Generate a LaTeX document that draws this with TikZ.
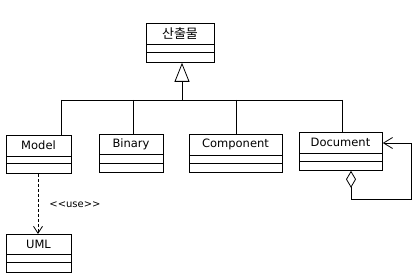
\documentclass[tikz,border=0pt]{standalone}
\usepackage{fontspec}
\setmainfont{DejaVu Sans}
\newfontfamily\krfont{Noto Sans CJK KR}
\usetikzlibrary{arrows.meta}
\tikzset{
  box/.style={draw, line width=0.8pt, inner sep=0pt, anchor=north west},
  ln/.style={line width=0.8pt},
  lbl/.style={font=\fontsize{11.5}{13}\selectfont, inner sep=0pt},
}
% name, x1, y1, x2, y2, line1, line2, text
\newcommand\umlcls[8]{%
  \node[box, minimum width={#4-#2}, minimum height={#5-#3}] (#1) at (#2,#3) {};
  \draw[ln] (#2,#6) -- (#4,#6);
  \draw[ln] (#2,#7) -- (#4,#7);
  \node[lbl] (#1-t) at ({(#2+#4)/2},{(#3+#6)/2}) {#8};
}
\begin{document}
\begin{tikzpicture}[x=1pt,y=-1pt]
\useasboundingbox[fill=white] (0,0) rectangle (420,280);
\umlcls{top}{146}{23}{214}{62}{44}{52}{\krfont\fontsize{13}{15}\selectfont 산출물}
\umlcls{model}{6}{135}{71}{173}{156}{163}{Model}
\umlcls{binary}{99}{134}{163}{172}{154}{163}{Binary}
\umlcls{comp}{189}{134}{282}{172}{155}{163}{Component}
\umlcls{doc}{299}{132}{382}{170}{153}{161}{Document}
\umlcls{uml}{6}{234}{71}{272}{254}{262}{UML}
% generalization
\coordinate (j) at (182,100);
\coordinate (jm) at (61,100);
\coordinate (jb) at (133,100);
\coordinate (jc) at (236,100);
\coordinate (jd) at (342,100);
\draw[ln] (jm) -- (jd);
\draw[ln] (jm) -- (jm |- model.north);
\draw[ln] (jb) -- (jb |- binary.north);
\draw[ln] (jc) -- (jc |- comp.north);
\draw[ln] (jd) -- (jd |- doc.north);
\draw[ln, -{Triangle[open, length=19pt, width=15pt, line width=0.8pt]}] (j) -- (j |- top.south);
% dependency
\coordinate (dx) at (38,0);
\draw[ln, dashed, dash pattern=on 3pt off 2pt, -{Straight Barb[length=7pt, width=9pt, line width=0.8pt]}] (dx |- model.south) -- (dx |- uml.north);
\node[font=\fontsize{10}{12}\selectfont, inner sep=0pt] (use) at (75,205) {<{}<use>{}>};
% self aggregation
\coordinate (ax) at (351,0);
\draw[ln, {Diamond[open, length=17pt, width=10pt, line width=0.8pt]}-{Straight Barb[length=9pt, width=11pt, line width=0.8pt]}]
  (ax |- doc.south) |- (411,199) |- (doc.east |- 0,143);
\end{tikzpicture}
\end{document}
